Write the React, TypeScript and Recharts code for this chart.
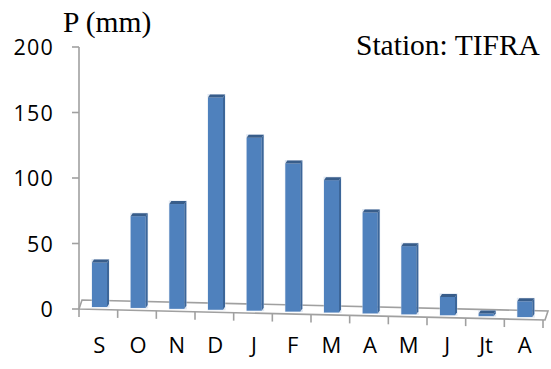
import React from 'react';
import { BarChart, Bar, XAxis, YAxis } from 'recharts';

const months = ['S', 'O', 'N', 'D', 'J', 'F', 'M', 'A', 'M', 'J', 'Jt', 'A'];
const precip = [34, 70, 80, 162, 132, 113, 101, 77, 52, 14, 2, 12];
const yTicks = [0, 50, 100, 150, 200];
const yTitle = 'P (mm)';
const stationTitle = 'Station: TIFRA';

const W = 551;
const H = 369;
const PLOT_LEFT = 79;
const PLOT_RIGHT = 543;
const PLOT_TOP = 47;
const PLOT_BOTTOM = 309;
const SLOPE = 0.0236;
const BAND = (PLOT_RIGHT - PLOT_LEFT) / months.length;
const FLOOR_DEPTH_X = 3;
const FLOOR_DEPTH_Y = 9;
const AXIS_GRAY = '#A0A0A0';
const SANS = '"Open Sans", sans-serif';
const SERIF = '"Liberation Serif", "Times New Roman", serif';

const data = months.map((m, i) => ({ idx: i, m, v: precip[i] }));

const frontY = (x: number) => PLOT_BOTTOM + SLOPE * (x - PLOT_LEFT);

const Floor = () => {
  const x0 = PLOT_LEFT;
  const x1 = PLOT_RIGHT + 2;
  const pts = [
    [x0 + FLOOR_DEPTH_X, frontY(x0) - FLOOR_DEPTH_Y],
    [x1 + FLOOR_DEPTH_X, frontY(x1) - FLOOR_DEPTH_Y],
    [x1, frontY(x1)],
    [x0, frontY(x0)],
  ]
    .map((p) => p.join(','))
    .join(' ');
  return <polygon points={pts} fill="#ffffff" stroke={AXIS_GRAY} strokeWidth={1.6} />;
};

const Bar3D = (props: any) => {
  const { x, y, width, height, index } = props;
  if (x == null || y == null) return null;
  const cx = x + width / 2;
  const dy = -2 + SLOPE * (cx - (PLOT_LEFT + BAND / 2));
  const bx = x + 1;
  const top = y + dy;
  const bottom = y + height + dy;
  const dx = 2;
  const dz = 3;
  return (
    <g>
      {index === 0 ? <Floor /> : null}
      <rect x={bx - 0.5} y={top - dz - 0.5} width={width + dx + 1} height={bottom - top + dz + 1} fill="#C9D7EA" opacity={0.6} />
      <rect x={bx} y={top} width={width} height={Math.max(bottom - top, 0)} fill="#4F81BD" />
      <polygon
        points={`${bx + width},${top} ${bx + width + dx},${top - dz} ${bx + width + dx},${bottom - dz} ${bx + width},${bottom}`}
        fill="#3C6699"
      />
      <polygon
        points={`${bx},${top} ${bx + width},${top} ${bx + width + dx},${top - dz} ${bx + dx},${top - dz}`}
        fill="#385D8A"
      />
    </g>
  );
};

const XTick = (props: any) => {
  const { x, payload, index, visibleTicksCount } = props;
  const left = x - BAND / 2;
  const right = x + BAND / 2;
  const isLast = index === (visibleTicksCount ?? months.length) - 1;
  return (
    <g>
      <line x1={left} y1={frontY(left)} x2={left} y2={frontY(left) + 8} stroke={AXIS_GRAY} strokeWidth={1.6} />
      {isLast ? (
        <line x1={right} y1={frontY(right)} x2={right} y2={frontY(right) + 8} stroke={AXIS_GRAY} strokeWidth={1.6} />
      ) : null}
      <text x={x + 1} y={PLOT_BOTTOM + 44} textAnchor="middle" fontFamily={SANS} fontSize={22} fill="#000">
        {months[payload.value]}
      </text>
    </g>
  );
};

const YTick = (props: any) => {
  const { y, payload } = props;
  return (
    <g>
      <line x1={PLOT_LEFT - 7} y1={y} x2={PLOT_LEFT} y2={y} stroke={AXIS_GRAY} strokeWidth={1.6} />
      <text
        x={PLOT_LEFT - 25}
        y={y + 8}
        textAnchor="end"
        fontFamily={SANS}
        fontSize={21.5}
        letterSpacing={1.2}
        fill="#000"
      >
        {payload.value}
      </text>
    </g>
  );
};

export default function App() {
  return (
    <div style={{ position: 'relative', width: W, height: H, background: '#fff' }}>
      <style>{`body{margin:0;background:#fff;}`}</style>
      <BarChart
        width={W}
        height={H}
        data={data}
        margin={{ top: PLOT_TOP, right: W - PLOT_RIGHT, bottom: 0, left: 0 }}
        barCategoryGap={0}
      >
        <XAxis
          dataKey="idx"
          type="category"
          axisLine={false}
          tickLine={false}
          tickSize={0}
          interval={0}
          tick={<XTick />}
          height={H - PLOT_BOTTOM}
        />
        <YAxis
          width={PLOT_LEFT}
          domain={[0, 200]}
          ticks={yTicks}
          interval={0}
          axisLine={{ stroke: AXIS_GRAY, strokeWidth: 1.6 }}
          tickLine={false}
          tick={<YTick />}
        />
        <Bar dataKey="v" barSize={15} shape={<Bar3D />} isAnimationActive={false} />
      </BarChart>
      <svg width={W} height={H} style={{ position: 'absolute', left: 0, top: 0, pointerEvents: 'none' }}>
        <text x={63} y={32} fontFamily={SERIF} fontSize={29.5} fill="#000">
          {yTitle}
        </text>
        <text x={356} y={55} fontFamily={SERIF} fontSize={29.5} fill="#000">
          {stationTitle}
        </text>
      </svg>
    </div>
  );
}
